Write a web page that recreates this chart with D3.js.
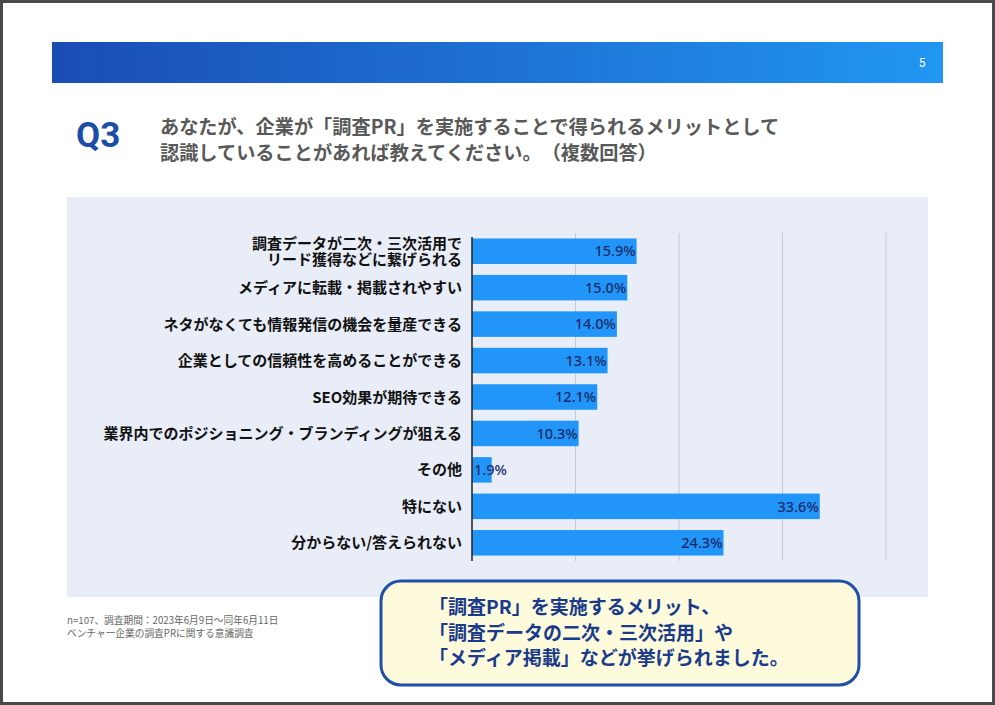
<!DOCTYPE html>
<html>
<head>
<meta charset="utf-8">
<script src="https://cdn.jsdelivr.net/npm/d3@7"></script>
<style>
  body { margin: 0; background: #fff; }
  svg { display: block; }
  svg text { text-spacing-trim: space-all; }
</style>
</head>
<body>
<div class="slide-container"></div>
<script>
"use strict";

// chart data
const categories = [
  "調査データが二次・三次活用で\nリード獲得などに繋げられる",
  "メディアに転載・掲載されやすい",
  "ネタがなくても情報発信の機会を量産できる",
  "企業としての信頼性を高めることができる",
  "SEO効果が期待できる",
  "業界内でのポジショニング・ブランディングが狙える",
  "その他",
  "特にない",
  "分からない/答えられない"
];
const values = [15.9, 15.0, 14.0, 13.1, 12.1, 10.3, 1.9, 33.6, 24.3];
const gridTicks = [10, 20, 30, 40];

const pageNumber = "5";
const questionNo = "Q3";
const titleLines = [
  "あなたが、企業が「調査PR」を実施することで得られるメリットとして",
  "認識していることがあれば教えてください。（複数回答）"
];
const noteLines = [
  "n=107、調査期間：2023年6月9日～同年6月11日",
  "ベンチャー企業の調査PRに関する意識調査"
];
const calloutLines = [
  "「調査PR」を実施するメリット、",
  "「調査データの二次・三次活用」や",
  "「メディア掲載」などが挙げられました。"
];

const W = 995, H = 705;
const jpFont = "'Noto Sans CJK JP', 'Noto Sans', sans-serif";

const svg = d3.select(".slide-container").append("svg")
  .attr("width", W)
  .attr("height", H);

// page frame
svg.append("rect")
  .attr("x", 1.5).attr("y", 1.5)
  .attr("width", W - 3).attr("height", H - 3)
  .attr("fill", "#fff")
  .attr("stroke", "#4a4a4a")
  .attr("stroke-width", 3);

// header band with gradient
const defs = svg.append("defs");
const grad = defs.append("linearGradient")
  .attr("id", "hdr")
  .attr("x1", "0%").attr("x2", "100%");
grad.append("stop").attr("offset", "0%").attr("stop-color", "#1a4db3");
grad.append("stop").attr("offset", "100%").attr("stop-color", "#2196f3");

svg.append("rect")
  .attr("x", 52).attr("y", 42)
  .attr("width", 891).attr("height", 41)
  .attr("fill", "url(#hdr)");

svg.append("text")
  .attr("x", 922).attr("y", 67)
  .attr("text-anchor", "middle")
  .attr("fill", "#fff")
  .style("font-family", "Roboto, sans-serif")
  .style("font-size", "12px")
  .text(pageNumber);

// question title
svg.append("text")
  .attr("x", 76).attr("y", 147)
  .attr("fill", "#1b4ea6")
  .style("font-family", "Roboto, sans-serif")
  .style("font-weight", "bold")
  .style("font-size", "35px")
  .text(questionNo);

svg.append("g").selectAll("text")
  .data(titleLines)
  .join("text")
  .attr("x", 160)
  .attr("y", (d, i) => 134 + i * 26)
  .attr("fill", "#595959")
  .style("font-family", jpFont)
  .style("font-weight", "bold")
  .style("font-size", "19.2px")
  .text(d => d);

// chart panel
svg.append("rect")
  .attr("x", 67).attr("y", 197)
  .attr("width", 861).attr("height", 400)
  .attr("fill", "#e8edf7");

const x = d3.scaleLinear().domain([0, 40]).range([472, 886]);
const y = d3.scaleBand()
  .domain(d3.range(categories.length))
  .range([233, 561])
  .paddingInner(0.3)
  .paddingOuter(0.15);

const chart = svg.append("g");

// gridlines
chart.append("g").selectAll("line")
  .data(gridTicks)
  .join("line")
  .attr("x1", d => x(d)).attr("x2", d => x(d))
  .attr("y1", 233).attr("y2", 561)
  .attr("stroke", "#c6c9cf")
  .attr("stroke-width", 1);

// bars
chart.append("g").selectAll("rect")
  .data(values)
  .join("rect")
  .attr("x", x(0))
  .attr("y", (d, i) => y(i))
  .attr("width", d => x(d) - x(0))
  .attr("height", y.bandwidth())
  .attr("fill", "#2196f8");

// value labels
chart.append("g").selectAll("text")
  .data(values)
  .join("text")
  .attr("x", d => (x(d) - x(0) < 40 ? x(0) + 2 : x(d) - 1))
  .attr("y", (d, i) => y(i) + y.bandwidth() / 2)
  .attr("dy", "0.36em")
  .attr("text-anchor", d => (x(d) - x(0) < 40 ? "start" : "end"))
  .attr("fill", "#1a2a6a")
  .style("font-family", "'Noto Sans', sans-serif")
  .style("font-weight", "500")
  .style("font-size", "14.5px")
  .text(d => d.toFixed(1) + "%");

// axis line
chart.append("line")
  .attr("x1", x(0)).attr("x2", x(0))
  .attr("y1", 237).attr("y2", 561)
  .attr("stroke", "#222")
  .attr("stroke-width", 1.5);

// category labels
const labels = chart.append("g").selectAll("text")
  .data(categories)
  .join("text")
  .attr("x", 462)
  .attr("y", (d, i) => y(i) + y.bandwidth() / 2)
  .attr("text-anchor", "end")
  .attr("fill", "#111")
  .style("font-family", jpFont)
  .style("font-weight", "bold")
  .style("font-size", "15px");

labels.each(function (d) {
  const lines = d.split("\n");
  const t = d3.select(this);
  lines.forEach((ln, k) => {
    t.append("tspan")
      .attr("x", 462)
      .attr("dy", k === 0 ? (0.36 - (lines.length - 1) * 0.5) * 15.5 : 15.5)
      .text(ln);
  });
});

// footnote
svg.append("g").selectAll("text")
  .data(noteLines)
  .join("text")
  .attr("x", 67)
  .attr("y", (d, i) => 624 + i * 13)
  .attr("fill", "#666")
  .style("font-family", jpFont)
  .style("font-size", "9.7px")
  .text(d => d);

// callout box
svg.append("rect")
  .attr("x", 381).attr("y", 581)
  .attr("width", 478).attr("height", 104)
  .attr("rx", 20).attr("ry", 20)
  .attr("fill", "#fdfbdb")
  .attr("stroke", "#1f4fa6")
  .attr("stroke-width", 3);

svg.append("g").selectAll("text")
  .data(calloutLines)
  .join("text")
  .attr("x", 429)
  .attr("y", (d, i) => 614 + i * 25.5)
  .attr("fill", "#1a3a8c")
  .style("font-family", jpFont)
  .style("font-weight", "bold")
  .style("font-size", "19px")
  .text(d => d);
</script>
</body>
</html>
